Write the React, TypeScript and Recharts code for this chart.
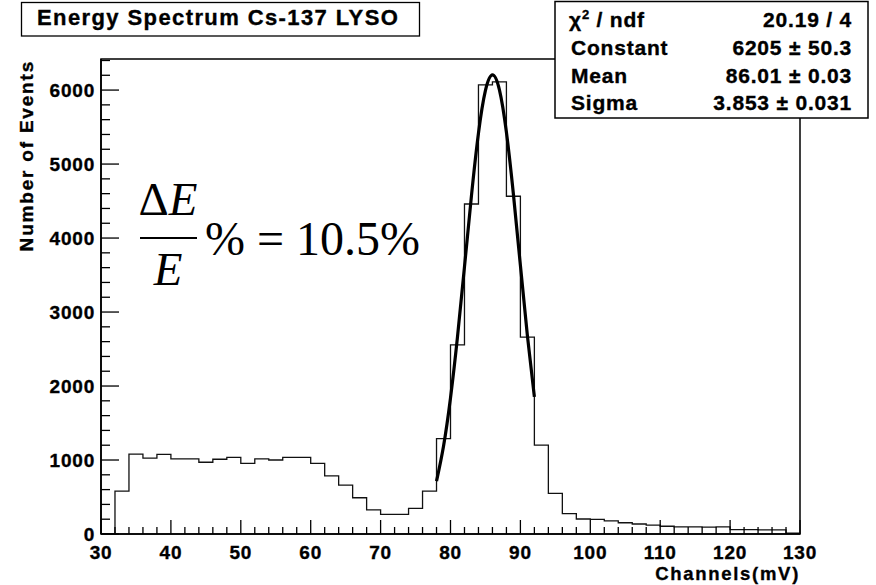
import { ComposedChart, Line, XAxis, YAxis, ReferenceArea } from "recharts";

// lower edge of each 2 mV bin
const binLow = [
  30, 32, 34, 36, 38, 40, 42, 44, 46, 48, 50, 52, 54, 56, 58, 60, 62, 64, 66, 68, 70, 72, 74, 76, 78,
  80, 82, 84, 86, 88, 90, 92, 94, 96, 98, 100, 102, 104, 106, 108, 110, 112, 114, 116, 118, 120, 122,
  124, 126, 128,
];
const counts = [
  0, 580, 1080, 1025, 1075, 1015, 1015, 970, 1010, 1035, 955, 1015, 1000, 1035, 1035, 955, 785, 660,
  490, 325, 265, 265, 345, 580, 1290, 2555, 4460, 6070, 6110, 4565, 2660, 1200, 550, 275, 203, 198,
  178, 152, 135, 120, 105, 97, 95, 92, 95, 58, 58, 56, 55, 10,
];

const fitX = [78, 79, 80, 81, 82, 83, 84, 85, 86, 87, 88, 89, 90, 91, 92];
const fitY = [715, 1186, 1838, 2664, 3610, 4573, 5416, 5995, 6205, 6003, 5430, 4592, 3630, 2682, 1853];

const xLabels = [30, 40, 50, 60, 70, 80, 90, 100, 110, 120, 130];
const yLabels = [0, 1000, 2000, 3000, 4000, 5000, 6000];

const statNames = ["Constant", "Mean", "Sigma"];
const statValues = ["6205 \u00b1 50.3", "86.01 \u00b1 0.03", "3.853 \u00b1 0.031"];
const chi2 = "20.19 / 4";

const X_MIN = 30;
const X_MAX = 130;
const Y_MAX = 6420;

const xTicks: number[] = [];
for (let v = X_MIN; v <= X_MAX; v += 2) xTicks.push(v);
const yTicks: number[] = [];
for (let v = 0; v <= 6400; v += 200) yTicks.push(v);

const hist = binLow.map((x, i) => ({ x, n: counts[i] }));
hist.push({ x: X_MAX, n: counts[counts.length - 1] });
const fit = fitX.map((x, i) => ({ x, f: fitY[i] }));

const font = "'Liberation Sans', Arial, Helvetica, sans-serif";
// slight outline to get closer to the heavy Helvetica of the original
const heavy = { stroke: "#000", strokeWidth: 0.35 };

function XTick({ x, y, payload }: any) {
  const major = xLabels.includes(payload.value);
  return (
    <g>
      <line x1={x} x2={x} y1={y} y2={y - (major ? 14 : 7)} stroke="#000" strokeWidth={1.3} />
      {major && (
        <text x={x} y={y + 24.5} textAnchor="middle" fontFamily={font} fontWeight="bold" fontSize={19} letterSpacing={0.8} fill="#000" {...heavy}>
          {payload.value}
        </text>
      )}
    </g>
  );
}

function YTick({ x, y, payload }: any) {
  const major = yLabels.includes(payload.value);
  return (
    <g>
      <line x1={x} x2={x + (major ? 18 : 9)} y1={y} y2={y} stroke="#000" strokeWidth={1.3} />
      {major && (
        <text x={x - 6} y={y} dy="0.36em" textAnchor="end" fontFamily={font} fontWeight="bold" fontSize={19} letterSpacing={0.8} fill="#000" {...heavy}>
          {payload.value}
        </text>
      )}
    </g>
  );
}

export default function App() {
  return (
    <div style={{ position: "absolute", left: 0, top: 0, width: 876, height: 585, background: "#fff" }}>
      <ComposedChart width={876} height={585} margin={{ top: 59, right: 76, bottom: 0, left: 0 }}>
        <XAxis
          dataKey="x"
          type="number"
          domain={[X_MIN, X_MAX]}
          ticks={xTicks}
          interval={0}
          tickSize={0}
          tickMargin={0}
          tick={<XTick />}
          height={51}
          axisLine={{ stroke: "#000", strokeWidth: 1.6 }}
          allowDataOverflow
        />
        <YAxis
          type="number"
          domain={[0, Y_MAX]}
          ticks={yTicks}
          interval={0}
          tickSize={0}
          tickMargin={0}
          tick={<YTick />}
          width={101}
          axisLine={{ stroke: "#000", strokeWidth: 1.6 }}
          allowDataOverflow
        />
        <ReferenceArea x1={X_MIN} x2={X_MAX} y1={0} y2={Y_MAX} fill="none" stroke="#000" strokeWidth={1.5} />
        <Line
          data={hist}
          dataKey="n"
          type="stepAfter"
          stroke="#111"
          strokeWidth={1.3}
          dot={false}
          activeDot={false}
          isAnimationActive={false}
        />
        <Line
          data={fit}
          dataKey="f"
          type="natural"
          stroke="#000"
          strokeWidth={3.2}
          dot={false}
          activeDot={false}
          isAnimationActive={false}
        />
      </ComposedChart>

      <svg width={876} height={585} style={{ position: "absolute", left: 0, top: 0, pointerEvents: "none" }}>
        {/* title */}
        <rect x={21.5} y={2.5} width={398} height={33.5} fill="#fff" stroke="#000" strokeWidth={1.3} />
        <text x={37} y={25} fontFamily={font} fontWeight="bold" fontSize={22} letterSpacing={1.4} fill="#000" {...heavy}>
          Energy Spectrum Cs-137 LYSO
        </text>

        {/* fit statistics */}
        <rect x={555} y={1.5} width={313} height={116.5} fill="#fff" stroke="#000" strokeWidth={1.5} />
        <g fontFamily={font} fontWeight="bold" fontSize={21} letterSpacing={0.8} fill="#000" {...heavy}>
          <text x={569} y={27}>
            {"\u03c7"}
            <tspan dy={-8} fontSize={13}>2</tspan>
            <tspan dy={8}>{" / ndf"}</tspan>
          </text>
          <text x={852} y={27} textAnchor="end">{chi2}</text>
          {statNames.map((s, i) => (
            <g key={s}>
              <text x={571} y={55 + i * 27.6}>{s}</text>
              <text x={852} y={55 + i * 27.6} textAnchor="end">{statValues[i]}</text>
            </g>
          ))}
        </g>

        {/* axis titles */}
        <text
          x={33}
          y={60}
          transform="rotate(-90 33 60)"
          textAnchor="end"
          fontFamily={font}
          fontWeight="bold"
          fontSize={19}
          letterSpacing={1.8}
          fill="#000"
          {...heavy}
        >
          Number of Events
        </text>
        <text x={800} y={580} textAnchor="end" fontFamily={font} fontWeight="bold" fontSize={18.5} letterSpacing={1.7} fill="#000" {...heavy}>
          Channels(mV)
        </text>

        {/* resolution annotation */}
        <g fontFamily="'Liberation Serif', 'Times New Roman', serif" fill="#000">
          <text x={168} y={215} textAnchor="middle" fontSize={47}>
            {"\u0394"}
            <tspan fontStyle="italic">E</tspan>
          </text>
          <line x1={140} x2={197} y1={238} y2={238} stroke="#000" strokeWidth={2.2} />
          <text x={168} y={285} textAnchor="middle" fontSize={47} fontStyle="italic">E</text>
          <text x={205} y={255} fontSize={48}>{"% = 10.5%"}</text>
        </g>
      </svg>
    </div>
  );
}
